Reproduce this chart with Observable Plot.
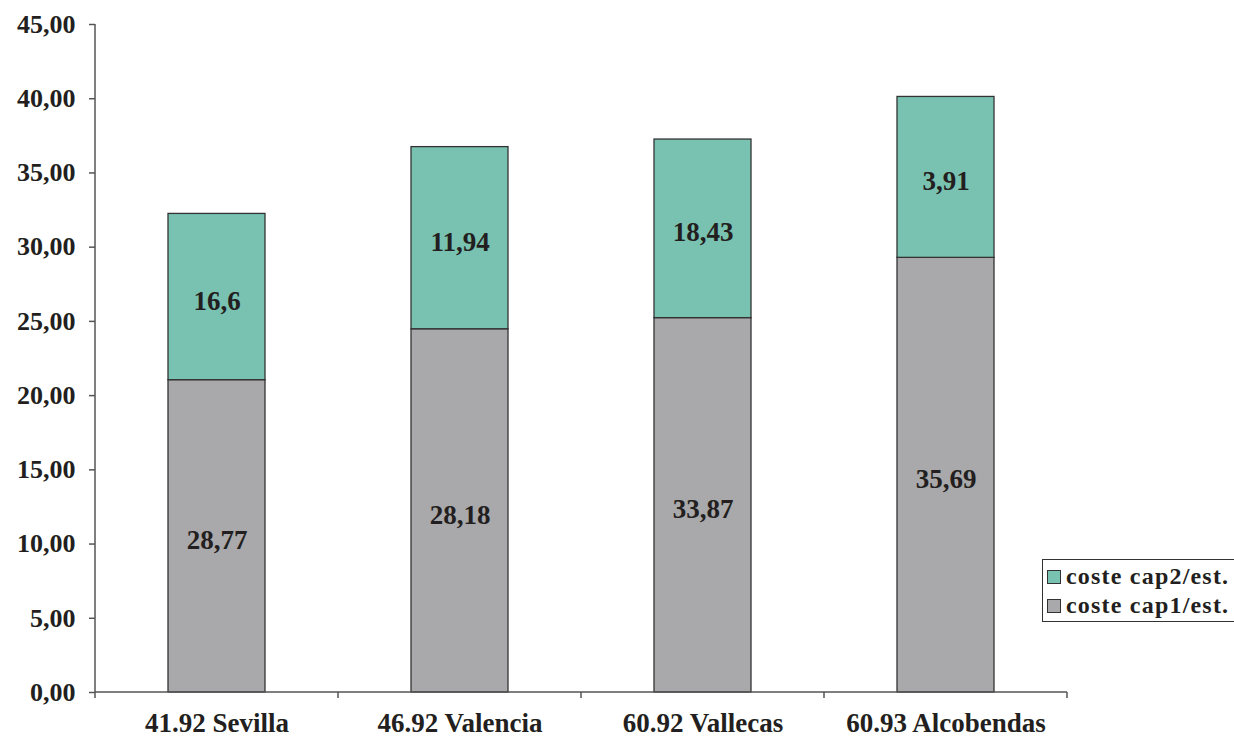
<!DOCTYPE html>
<html><head><meta charset="utf-8">
<script src="https://cdn.jsdelivr.net/npm/d3@7"></script>
<script src="https://cdn.jsdelivr.net/npm/@observablehq/plot@0.6"></script>
<style>
html,body{margin:0;padding:0;background:#fff;overflow:hidden}
#wrap{position:relative;width:1234px;height:739px}
.legend{position:absolute;left:1042px;top:559px;width:220px;height:63px;border:1.5px solid #333;background:#fff;
  font-family:"Liberation Serif",serif;font-weight:bold;font-size:24px;letter-spacing:1.2px;color:#231f20;box-sizing:border-box}
.legend .row{position:absolute;left:4px;height:29px;line-height:29px;white-space:nowrap}
.legend .sw{display:inline-block;width:12px;height:12px;border:1px solid #333;margin-right:5px;vertical-align:0px}
</style></head>
<body><div id="wrap"></div>
<script>
const categories = ["41.92 Sevilla", "46.92 Valencia", "60.92 Vallecas", "60.93 Alcobendas"];
const series = ["coste cap1/est.", "coste cap2/est."];
const cap1Heights = [21.04, 24.47, 25.22, 29.28];
const cap2Heights = [11.20, 12.27, 12.03, 10.84];
const cap1Labels = ["28,77", "28,18", "33,87", "35,69"];
const cap2Labels = ["16,6", "11,94", "18,43", "3,91"];
const yTicks = [0, 5, 10, 15, 20, 25, 30, 35, 40, 45];
const colors = ["#a9a8aa", "#79c2b2"];

const rows = categories.flatMap((c, i) => [
  {cat: c, series: series[0], value: cap1Heights[i], label: cap1Labels[i]},
  {cat: c, series: series[1], value: cap2Heights[i], label: cap2Labels[i]}
]);

const font = "'Liberation Serif', serif";
const ink = "#231f20";

function axisLines(index, scales) {
  const {x, y} = scales;
  const [x0, x1] = x.range();
  const step = typeof x.step === "function" ? x.step() : x.step;
  const bw = typeof x.bandwidth === "function" ? x.bandwidth() : x.bandwidth;
  const y0 = y(0), yTop = y(45);
  const g = d3.create("svg:g").attr("stroke", "#555").attr("stroke-width", 1.5).attr("fill", "none");
  g.append("line").attr("x1", x0).attr("x2", x0).attr("y1", yTop).attr("y2", y0 + 6);
  g.append("line").attr("x1", x0).attr("x2", x1).attr("y1", y0).attr("y2", y0);
  categories.forEach(c => {
    const bx = x(c) + bw / 2 + step / 2;
    g.append("line").attr("x1", bx).attr("x2", bx).attr("y1", y0).attr("y2", y0 + 6);
  });
  return g.node();
}

const chart = Plot.plot({
  width: 1234,
  height: 739,
  marginLeft: 95,
  marginRight: 167,
  marginTop: 24,
  marginBottom: 47,
  style: {fontFamily: font, background: "#fff", color: ink},
  x: {domain: categories, paddingInner: 0.6, paddingOuter: 0.3, label: null},
  y: {domain: [0, 45], label: null},
  color: {domain: series, range: colors},
  marks: [
    Plot.barY(rows, Plot.stackY({x: "cat", y: "value", fill: "series", stroke: "#333", strokeWidth: 1.3})),
    Plot.text(rows, Plot.stackY({x: "cat", y: "value", z: "series", text: "label", fill: ink,
      fontSize: 27, fontWeight: "bold", dy: 4})),
    Plot.axisY({ticks: yTicks, tickSize: 6, tickPadding: 14, stroke: "#555", strokeWidth: 1.5,
      tickFormat: d => d.toFixed(2).replace(".", ","), fontSize: 26, fontWeight: "bold", fill: ink,
      label: null}),
    Plot.axisX({tickSize: 0, tickPadding: 20, fontSize: 27, fontWeight: "bold", fill: ink,
      label: null}),
    axisLines
  ]
});
const wrap = document.getElementById("wrap");
wrap.appendChild(chart);

const legend = document.createElement("div");
legend.className = "legend";
[series[1], series[0]].forEach((s, i) => {
  const row = document.createElement("div");
  row.className = "row";
  row.style.top = (2 + i * 29) + "px";
  const sw = document.createElement("span");
  sw.className = "sw";
  sw.style.background = colors[series.indexOf(s)];
  row.appendChild(sw);
  row.appendChild(document.createTextNode(s));
  legend.appendChild(row);
});
wrap.appendChild(legend);
</script>
</body></html>
